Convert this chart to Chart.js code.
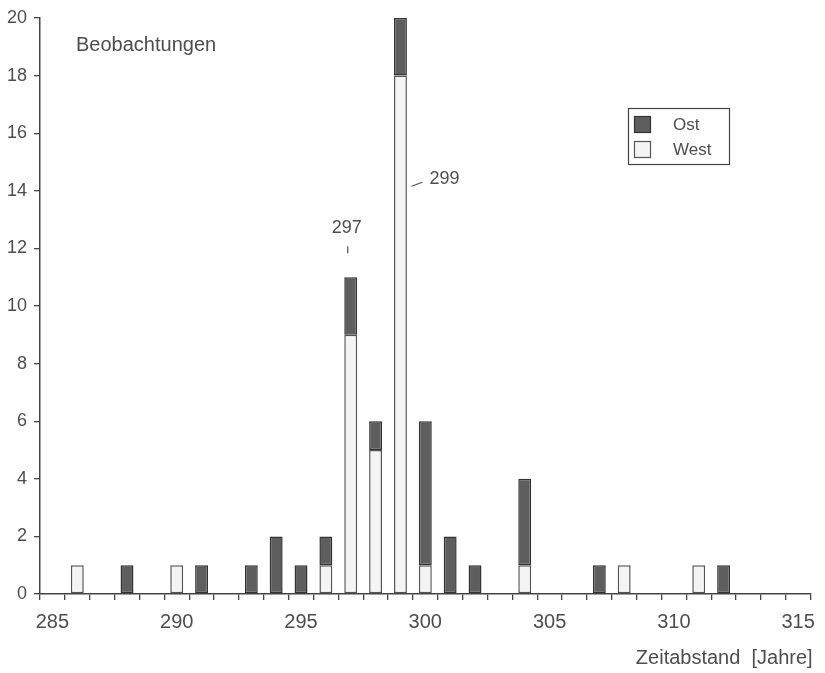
<!DOCTYPE html>
<html>
<head>
<meta charset="utf-8">
<script src="https://cdn.jsdelivr.net/npm/chart.js@4.4.1/dist/chart.umd.min.js"></script>
<style>
  html, body { margin: 0; padding: 0; background: #fff; }
</style>
</head>
<body>
<canvas id="chart" width="825" height="673"></canvas>
<script>
// --- Daten ---
const jahre = [286, 288, 290, 291, 293, 294, 295, 296, 297, 298, 299, 300, 301, 302, 304, 307, 308, 311, 312];
const west  = [1, 0, 1, 0, 0, 0, 0, 1, 9, 5, 18, 1, 0, 0, 1, 0, 1, 1, 0];
const ost   = [0, 1, 0, 1, 1, 2, 1, 1, 2, 1, 2, 5, 2, 1, 3, 1, 0, 0, 1];
const xMin = 285, xMax = 315;
const yMax = 20, yStep = 2;
const markiert = [297, 299];

const TEXT = '#4d4d4d';
const LINE = '#444';
const FONT = '"Liberation Sans", Arial, sans-serif';

// Kategorien 285..315
const kategorien = [];
for (let j = xMin; j <= xMax; j++) kategorien.push(j);

function reihe(werte) {
  return kategorien.map(k => {
    const i = jahre.indexOf(k);
    return i >= 0 && werte[i] > 0 ? werte[i] : null;
  });
}

// --- Beschriftungen, Legende ---
const beschriftung = {
  id: 'beschriftung',
  afterDraw(chart) {
    const ctx = chart.ctx;
    const xs = chart.scales.x, ys = chart.scales.y;
    const area = chart.chartArea;
    ctx.save();
    ctx.fillStyle = TEXT;
    ctx.strokeStyle = TEXT;
    ctx.lineWidth = 1.2;

    ctx.font = '20px ' + FONT;
    ctx.textBaseline = 'middle';
    ctx.textAlign = 'left';
    ctx.fillText('Beobachtungen', area.left + 36, area.top + 27);

    ctx.textAlign = 'right';
    ctx.fillText('Zeitabstand  [Jahre]', area.right + 2, 658);

    // 297
    const i297 = kategorien.indexOf(markiert[0]);
    const t297 = west[jahre.indexOf(297)] + ost[jahre.indexOf(297)];
    const x297 = xs.getPixelForValue(i297) - 4;
    const yTop297 = ys.getPixelForValue(t297);
    ctx.font = '18px ' + FONT;
    ctx.textAlign = 'center';
    ctx.fillText('297', x297, yTop297 - 49);
    ctx.beginPath();
    ctx.moveTo(x297 + 1, yTop297 - 31);
    ctx.lineTo(x297 + 1, yTop297 - 24);
    ctx.stroke();

    // 299
    const i299 = kategorien.indexOf(markiert[1]);
    const x299 = xs.getPixelForValue(i299);
    const y299 = ys.getPixelForValue(14.4);
    ctx.textAlign = 'left';
    ctx.fillText('299', x299 + 29, y299);
    ctx.beginPath();
    ctx.moveTo(x299 + 11, y299 + 7);
    ctx.lineTo(x299 + 22, y299 + 3);
    ctx.stroke();

    // Legende
    const lx = 628, ly = 108;
    ctx.strokeStyle = LINE;
    ctx.lineWidth = 1.2;
    ctx.strokeRect(lx + 0.5, ly + 0.5, 101, 56);
    const eintraege = [chart.data.datasets[1], chart.data.datasets[0]];
    ctx.font = '17px ' + FONT;
    ctx.textAlign = 'left';
    eintraege.forEach((ds, k) => {
      const sy = ly + 8 + k * 25;
      ctx.fillStyle = ds.backgroundColor;
      ctx.fillRect(lx + 6, sy, 17, 17);
      ctx.strokeStyle = ds.borderColor;
      ctx.strokeRect(lx + 6.5, sy + 0.5, 16, 16);
      ctx.fillStyle = TEXT;
      ctx.fillText(ds.label, lx + 45, sy + 9);
    });
    ctx.restore();
  }
};

new Chart(document.getElementById('chart'), {
  type: 'bar',
  data: {
    labels: kategorien,
    datasets: [
      {
        label: 'West',
        data: reihe(west),
        backgroundColor: '#f4f4f4',
        borderColor: '#555',
        borderWidth: 1.5,
        borderSkipped: false,
        barPercentage: 0.52,
        categoryPercentage: 1
      },
      {
        label: 'Ost',
        data: reihe(ost),
        backgroundColor: '#5e5e5e',
        borderColor: '#333',
        borderWidth: 1.5,
        borderSkipped: false,
        barPercentage: 0.52,
        categoryPercentage: 1
      }
    ]
  },
  options: {
    responsive: false,
    animation: false,
    devicePixelRatio: 1,
    layout: { padding: { top: 18, right: 8, left: 0, bottom: 0 } },
    plugins: {
      legend: { display: false },
      tooltip: { enabled: false }
    },
    scales: {
      x: {
        stacked: true,
        offset: true,
        grid: { offset: true, drawOnChartArea: false, tickLength: 6, color: LINE, lineWidth: 1.3 },
        border: { color: LINE, width: 1.5 },
        ticks: {
          autoSkip: false,
          maxRotation: 0,
          padding: 10,
          color: TEXT,
          font: { family: FONT, size: 20 },
          callback: function (v, i) {
            const j = kategorien[i];
            return j % 5 === 0 ? String(j) : '';
          }
        },
        afterFit(scale) { scale.height = 79; }
      },
      y: {
        stacked: true,
        min: 0,
        max: yMax,
        grid: { drawOnChartArea: false, tickLength: 6, color: LINE, lineWidth: 1.3 },
        border: { color: LINE, width: 1.5 },
        ticks: {
          stepSize: yStep,
          padding: 7,
          color: TEXT,
          font: { family: FONT, size: 18 }
        },
        afterFit(scale) { scale.width = 40; }
      }
    }
  },
  plugins: [beschriftung]
});
</script>
</body>
</html>
